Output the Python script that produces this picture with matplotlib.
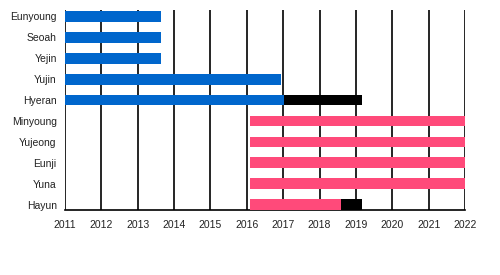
from matplotlib import pyplot as plt
import numpy as np

plt.rcParams["font.family"] = ["Liberation Sans", "DejaVu Sans"]

# member names, top to bottom
members = ["Eunyoung", "Seoah", "Yejin", "Yujin", "Hyeran",
           "Minyoung", "Yujeong", "Eunji", "Yuna", "Hayun"]
# main period: start, end (decimal years)
start = [2011.0, 2011.0, 2011.0, 2011.0, 2011.0,
         2016.09, 2016.09, 2016.09, 2016.09, 2016.09]
end = [2013.64, 2013.64, 2013.64, 2016.94, 2017.02,
       2022.0, 2022.0, 2022.0, 2022.0, 2018.59]
# hiatus period (black), None when absent
hiatus_start = [None, None, None, None, 2017.02, None, None, None, None, 2018.59]
hiatus_end = [None, None, None, None, 2019.17, None, None, None, None, 2019.17]
# generation colour
gen = [0, 0, 0, 0, 0, 1, 1, 1, 1, 1]
gen_colors = ["#0066CC", "#FF4A7A"]

years = list(range(2011, 2023))

fig = plt.figure(figsize=(5, 2.75), dpi=100)
ax = fig.add_axes([0.13, 0.236, 0.8, 0.728])

for i in range(len(members)):
    ax.barh(i, end[i] - start[i], left=start[i], height=0.52,
            color=gen_colors[gen[i]], zorder=3)
    if hiatus_start[i] is not None:
        ax.barh(i, hiatus_end[i] - hiatus_start[i], left=hiatus_start[i],
                height=0.52, color="black", zorder=3)

for y in years:
    ax.axvline(y, color="black", lw=1.2, zorder=2)

ax.set_xlim(2011, 2022)
ax.set_ylim(9.25, -0.3)
ax.set_yticks(range(len(members)))
ax.set_yticklabels(members)
ax.set_xticks(years)
ax.set_xticklabels([str(y) for y in years])
ax.tick_params(length=0, labelsize=7.5, labelcolor="#222222")
ax.tick_params(axis="x", pad=7)
ax.tick_params(axis="y", pad=6)
for s in ["top", "right", "left"]:
    ax.spines[s].set_visible(False)
ax.spines["bottom"].set_linewidth(1.2)

fig.savefig("out.png")
